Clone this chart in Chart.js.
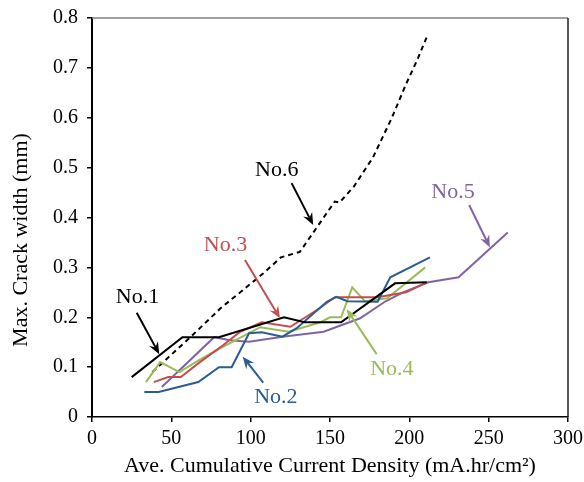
<!DOCTYPE html>
<html>
<head>
<meta charset="utf-8">
<script src="https://cdn.jsdelivr.net/npm/chart.js@4.4.1/dist/chart.umd.min.js"></script>
<style>
  html, body { margin: 0; padding: 0; background: #fff; }
  canvas { display: block; }
</style>
</head>
<body>
<canvas id="chart" width="584" height="482"></canvas>
<script>
// values
const no1X = [25, 57, 80, 121, 134, 157, 191, 211];
const no1Y = [0.08, 0.16, 0.16, 0.20, 0.19, 0.19, 0.268, 0.27];

const no2X = [33, 42, 67, 80, 88, 99, 107, 120, 129, 148, 154, 161, 180, 188, 213];
const no2Y = [0.05, 0.05, 0.07, 0.10, 0.10, 0.168, 0.17, 0.161, 0.178, 0.231, 0.241, 0.232, 0.231, 0.28, 0.32];

const no3X = [39, 48, 56, 68, 81, 93, 107, 125, 143, 153, 180, 198, 211];
const no3Y = [0.07, 0.08, 0.08, 0.11, 0.14, 0.17, 0.19, 0.181, 0.217, 0.24, 0.24, 0.25, 0.27];

const no4X = [34, 43, 55, 68, 81, 106, 124, 144, 150, 157, 164, 172, 186, 210];
const no4Y = [0.07, 0.11, 0.09, 0.115, 0.138, 0.18, 0.171, 0.19, 0.2, 0.2, 0.26, 0.232, 0.238, 0.3];

const no5X = [44, 77, 87, 99, 120, 146, 169, 185, 196, 212, 231, 262];
const no5Y = [0.06, 0.16, 0.154, 0.151, 0.161, 0.171, 0.198, 0.232, 0.25, 0.27, 0.28, 0.37];

const no6X = [38, 62, 81, 98, 108, 119, 131, 153, 156, 165, 177, 189, 198, 205, 211];
const no6Y = [0.09, 0.16, 0.218, 0.262, 0.288, 0.32, 0.331, 0.432, 0.43, 0.462, 0.52, 0.6, 0.668, 0.716, 0.762];

const seriesNames = ['No.1', 'No.2', 'No.3', 'No.4', 'No.5', 'No.6'];
const xTickStep = 50;
const yTickStep = 0.1;

const BLACK = '#000000';
const BLUE = '#2b5c92';
const RED = '#c0504d';
const GREEN = '#9bbb59';
const PURPLE = '#8064a2';

const FONT = '"Liberation Serif", "Times New Roman", serif';

// label text, label centre and arrow (data units)
const notes = [
  { text: 'No.1', color: BLACK,  at: [28.7, 0.241],  from: [28.2, 0.209],  to: [42.4, 0.126] },
  { text: 'No.2', color: BLUE,   at: [115.9, 0.040], from: [107.9, 0.069], to: [95.0, 0.121] },
  { text: 'No.3', color: RED,    at: [84.1, 0.345],  from: [96.4, 0.315],  to: [118.5, 0.198] },
  { text: 'No.4', color: GREEN,  at: [189.0, 0.096], from: [179.4, 0.126], to: [160.5, 0.216] },
  { text: 'No.5', color: PURPLE, at: [227.5, 0.451], from: [237.7, 0.425], to: [250.8, 0.340] },
  { text: 'No.6', color: BLACK,  at: [116.4, 0.495], from: [125.8, 0.469], to: [139.4, 0.385] },
];

function pts(xs, ys) {
  return xs.map((x, i) => ({ x, y: ys[i] }));
}

function line(label, xs, ys, color, dash) {
  return {
    label,
    data: pts(xs, ys),
    borderColor: color,
    backgroundColor: color,
    borderWidth: 2,
    borderDash: dash || [],
    pointRadius: 0,
    tension: 0,
    fill: false,
  };
}

function drawArrow(ctx, x0, y0, x1, y1, color) {
  const ang = Math.atan2(y1 - y0, x1 - x0);
  const len = 12, half = 5, notch = 8;
  ctx.save();
  ctx.strokeStyle = color;
  ctx.fillStyle = color;
  ctx.lineWidth = 2;
  ctx.beginPath();
  ctx.moveTo(x0, y0);
  ctx.lineTo(x1 - Math.cos(ang) * notch, y1 - Math.sin(ang) * notch);
  ctx.stroke();
  ctx.translate(x1, y1);
  ctx.rotate(ang);
  ctx.beginPath();
  ctx.moveTo(0, 0);
  ctx.lineTo(-len, -half);
  ctx.lineTo(-notch, 0);
  ctx.lineTo(-len, half);
  ctx.closePath();
  ctx.fill();
  ctx.restore();
}

const extras = {
  id: 'extras',
  afterDatasetsDraw(chart) {
    const { ctx, chartArea: a, scales } = chart;
    const xs = scales.x, ys = scales.y;

    // top and right frame of the plot area
    ctx.save();
    ctx.lineWidth = 1.5;
    ctx.strokeStyle = '#808080';
    ctx.beginPath();
    ctx.moveTo(a.left, a.top);
    ctx.lineTo(a.right, a.top);
    ctx.stroke();
    ctx.strokeStyle = '#222';
    ctx.beginPath();
    ctx.moveTo(a.right, a.top);
    ctx.lineTo(a.right, a.bottom);
    ctx.stroke();
    ctx.restore();

    // series labels with arrows
    for (const n of notes) {
      ctx.save();
      ctx.font = '22px ' + FONT;
      ctx.fillStyle = n.color;
      ctx.textAlign = 'center';
      ctx.textBaseline = 'middle';
      ctx.fillText(n.text, xs.getPixelForValue(n.at[0]), ys.getPixelForValue(n.at[1]));
      ctx.restore();
      drawArrow(ctx,
        xs.getPixelForValue(n.from[0]), ys.getPixelForValue(n.from[1]),
        xs.getPixelForValue(n.to[0]), ys.getPixelForValue(n.to[1]), n.color);
    }

    // y axis title
    ctx.save();
    ctx.font = '22px ' + FONT;
    ctx.fillStyle = '#000';
    ctx.textAlign = 'center';
    ctx.textBaseline = 'middle';
    ctx.translate(21, 240);
    ctx.rotate(-Math.PI / 2);
    ctx.fillText('Max. Crack width (mm)', 0, 0);
    ctx.restore();
  }
};

Chart.defaults.font.family = FONT;
Chart.defaults.color = '#000';

new Chart(document.getElementById('chart'), {
  type: 'line',
  data: {
    datasets: [
      line(seriesNames[0], no1X, no1Y, BLACK),
      line(seriesNames[1], no2X, no2Y, BLUE),
      line(seriesNames[2], no3X, no3Y, RED),
      line(seriesNames[3], no4X, no4Y, GREEN),
      line(seriesNames[4], no5X, no5Y, PURPLE),
      line(seriesNames[5], no6X, no6Y, BLACK, [5, 4]),
    ],
  },
  options: {
    responsive: false,
    animation: false,
    layout: { padding: { left: 0, right: 16, top: 18, bottom: 0 } },
    plugins: { legend: { display: false }, tooltip: { enabled: false } },
    scales: {
      x: {
        type: 'linear',
        min: 0,
        max: 300,
        ticks: { stepSize: xTickStep, font: { size: 20 }, padding: 5, maxRotation: 0 },
        grid: { display: true, drawOnChartArea: false, drawTicks: true, tickLength: 5, color: '#000', lineWidth: 1.5 },
        border: { display: true, color: '#000', width: 1.5 },
        title: {
          display: true,
          text: 'Ave. Cumulative Current Density (mA.hr/cm²)',
          font: { size: 22 },
          padding: { top: 0, bottom: 3 },
        },
        afterFit(s) { s.height = 65; s.paddingLeft = 0; s.paddingRight = 0; },
      },
      y: {
        min: 0,
        max: 0.8,
        ticks: {
          stepSize: yTickStep,
          font: { size: 20 },
          padding: 9,
          callback: v => (v === 0 ? '0' : v.toFixed(1)),
        },
        grid: { display: true, drawOnChartArea: false, drawTicks: true, tickLength: 5, color: '#000', lineWidth: 1.5 },
        border: { display: true, color: '#000', width: 2 },
        afterFit(s) { s.width = 92; s.paddingTop = 0; s.paddingBottom = 0; },
      },
    },
  },
  plugins: [extras],
});
</script>
</body>
</html>
